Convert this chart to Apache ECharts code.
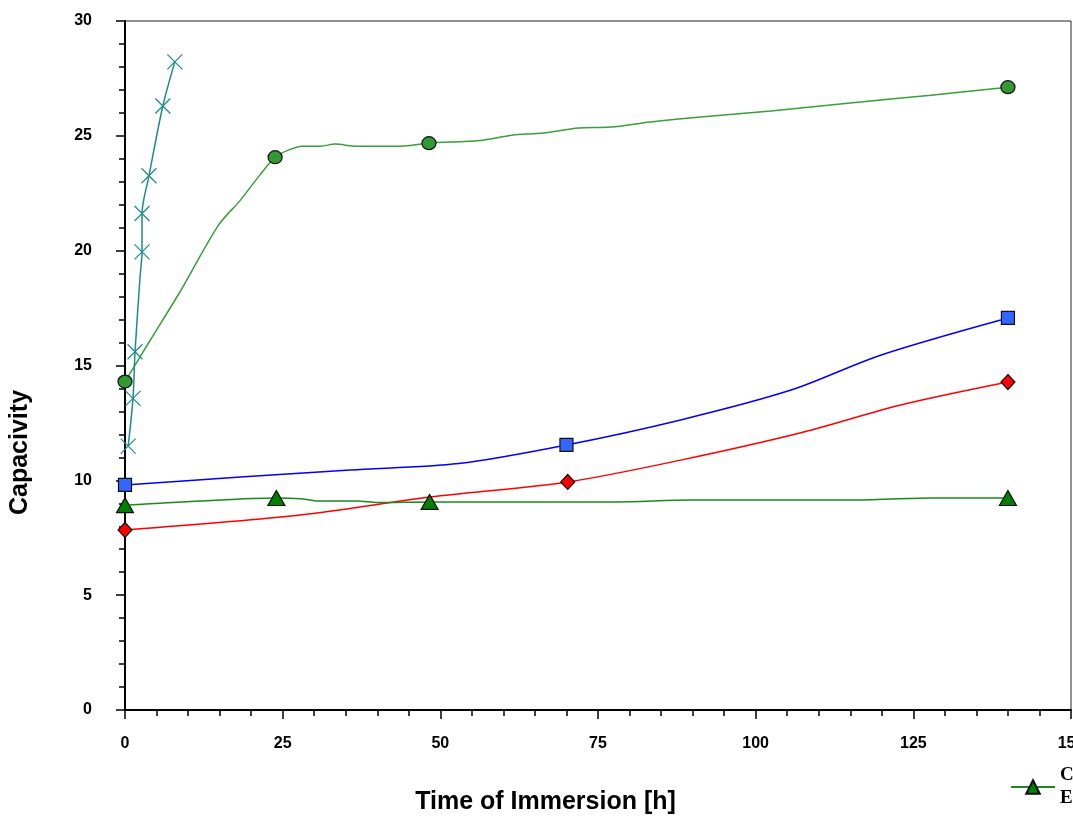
<!DOCTYPE html>
<html>
<head>
<meta charset="utf-8">
<script src="https://cdn.jsdelivr.net/npm/echarts@6/dist/echarts.min.js"></script>
<style>
  html, body { margin: 0; padding: 0; background: #fff; }
  #chart { width: 1073px; height: 818px; }
</style>
</head>
<body>
<div id="chart"></div>
<script>
// axis ticks
const xTicks = [0, 25, 50, 75, 100, 125, 150];
const yTicks = [0, 5, 10, 15, 20, 25, 30];

// green circles: marked points + points along the curve
const circleMarks = [[0, 14.3], [23.8, 24.07], [48.2, 24.68], [140, 27.12]];
const circlePath = [[4, 16.1], [8.7, 18.2], [14.8, 21.1], [18.3, 22.2], [21.4, 23.3],
  [25.9, 24.38], [28.1, 24.55], [31, 24.55], [33.3, 24.64], [36.7, 24.55], [43.7, 24.55],
  [56.3, 24.8], [61.4, 25.03], [66.3, 25.12], [71.9, 25.34], [77, 25.38], [83.3, 25.6],
  [91.3, 25.82], [102.4, 26.08], [115, 26.43], [127.8, 26.77]];

// teal crosses
const crossMarks = [[0.5, 11.49], [1.27, 13.57], [1.59, 15.6], [2.7, 19.95], [2.7, 21.62],
  [3.8, 23.26], [6.0, 26.3], [7.9, 28.22]];
const crossPath = [[2.4, 18.9]];

// blue squares
const squareMarks = [[0, 9.8], [70, 11.54], [140, 17.07]];
const squarePath = [[18.3, 10.14], [35.7, 10.45], [52.9, 10.73], [88.1, 12.63],
  [105.6, 13.93], [119.8, 15.45]];

// red diamonds
const diamondMarks = [[0, 7.84], [70.2, 9.93], [140, 14.28]];
const diamondPath = [[27.8, 8.49], [48.4, 9.27], [88.1, 10.88], [107, 12.06], [123, 13.28]];

// dark green triangles
const triangleMarks = [[0, 8.92], [24, 9.23], [48.3, 9.06], [140, 9.23]];
const trianglePath = [[11.9, 9.1], [27.8, 9.2], [30.7, 9.1], [36.8, 9.1], [40, 9.03],
  [77.8, 9.06], [89.7, 9.14], [115, 9.14], [127.8, 9.23]];

const legendName = "C\nE";

function buildData(marks, path) {
  const all = marks.map(p => ({ value: p, mark: true }))
    .concat(path.map(p => ({ value: p, mark: false })));
  all.sort((a, b) => a.value[0] - b.value[0] || a.value[1] - b.value[1]);
  return all.map(d => d.mark ? { value: d.value } : { value: d.value, symbol: "none" });
}

function makeSeries(name, marks, path, lineColor, symbol, size, fill, border) {
  return {
    name: name,
    type: "line",
    smooth: 0.3,
    data: buildData(marks, path),
    symbol: symbol,
    symbolSize: size,
    showSymbol: true,
    lineStyle: { color: lineColor, width: 1.5 },
    itemStyle: { color: fill, borderColor: border, borderWidth: 1.2 },
    emphasis: { disabled: true },
    z: 3
  };
}

const chart = echarts.init(document.getElementById("chart"));

const axisFont = { fontFamily: "Liberation Sans", fontWeight: "bold", fontSize: 16, color: "#000" };

const option = {
  animation: false,
  backgroundColor: "#fff",
  grid: {
    left: 125,
    right: 2,
    top: 21,
    bottom: 108,
    outerBoundsMode: "none",
    containLabel: false,
    show: true,
    borderColor: "#222",
    borderWidth: 1
  },
  legend: {
    data: [legendName],
    left: 1010,
    top: 764,
    itemWidth: 44,
    itemHeight: 17,
    itemGap: 0,
    padding: 0,
    textStyle: {
      fontFamily: "Liberation Serif",
      fontWeight: "bold",
      fontSize: 19,
      lineHeight: 23,
      color: "#000"
    }
  },
  xAxis: {
    type: "value",
    min: xTicks[0],
    max: xTicks[xTicks.length - 1],
    interval: xTicks[1] - xTicks[0],
    name: "Time of Immersion [h]",
    nameLocation: "middle",
    nameGap: 80,
    nameTextStyle: {
      fontFamily: "Liberation Sans", fontWeight: "bold", fontSize: 25, color: "#000",
      padding: [0, 105, 0, 0]
    },
    axisLine: { show: true, onZero: false, lineStyle: { color: "#000", width: 2 } },
    axisTick: { show: true, length: 9, lineStyle: { color: "#000", width: 1.5 } },
    minorTick: { show: true, splitNumber: 5, length: 6, lineStyle: { color: "#000", width: 1.5 } },
    axisLabel: Object.assign({ margin: 26 }, axisFont),
    splitLine: { show: false }
  },
  yAxis: {
    type: "value",
    min: yTicks[0],
    max: yTicks[yTicks.length - 1],
    interval: yTicks[1] - yTicks[0],
    name: "Capacivity",
    nameLocation: "middle",
    nameGap: 92,
    nameTextStyle: {
      fontFamily: "Liberation Sans", fontWeight: "bold", fontSize: 25, color: "#000",
      padding: [0, 174, 0, 0]
    },
    axisLine: { show: true, onZero: false, lineStyle: { color: "#000", width: 2 } },
    axisTick: { show: true, length: 9, lineStyle: { color: "#000", width: 1.5 } },
    minorTick: { show: true, splitNumber: 5, length: 6, lineStyle: { color: "#000", width: 1.5 } },
    axisLabel: Object.assign({ margin: 33 }, axisFont),
    splitLine: { show: false }
  },
  series: [
    makeSeries("circles", circleMarks, circlePath, "#3a9e3a", "circle", [14, 13], "#339933", "#111"),
    makeSeries("crosses", crossMarks, crossPath, "#1a8c8c", "path://M0,0L10,10M10,0L0,10", 15, "rgba(0,0,0,0)", "#1a8c8c"),
    makeSeries("squares", squareMarks, squarePath, "#0000ff", "rect", 13, "#3366ff", "#111"),
    makeSeries("diamonds", diamondMarks, diamondPath, "#ff0000", "diamond", [14, 15], "#ff0000", "#111"),
    makeSeries(legendName, triangleMarks, trianglePath, "#1a8a1a", "triangle", [17, 15], "#008000", "#111")
  ]
};

chart.setOption(option);
</script>
</body>
</html>
